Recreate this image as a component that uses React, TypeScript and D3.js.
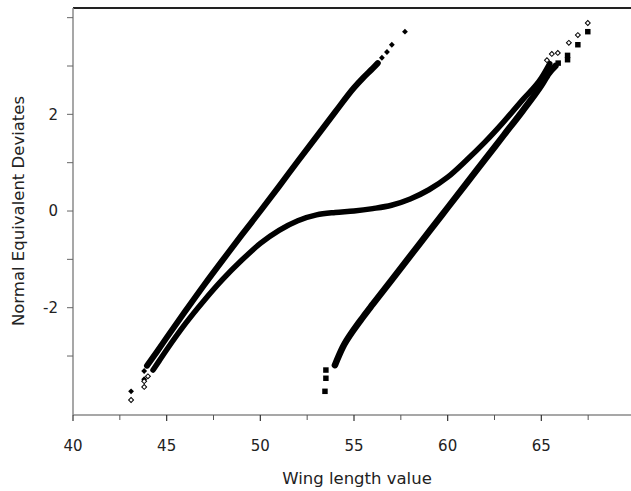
import React from "react";
import * as d3 from "d3";

// ---- data ----
// x: wing length value, z: normal equivalent deviate
const leftDense: [number, number][] = [
  [43.95, -3.2], [44.5, -2.9], [45, -2.62], [46, -2.07], [47, -1.53], [48, -1.01],
  [49, -0.5], [50, 0.0], [51, 0.51], [52, 1.03], [53, 1.54], [54, 2.05],
  [55, 2.55], [55.5, 2.76], [56.0, 2.95], [56.27, 3.06],
];
const leftTail: [number, number][] = [
  [43.1, -3.73], [43.8, -3.48], [43.8, -3.31],
  [56.49, 3.17], [56.76, 3.29], [57.02, 3.44], [57.72, 3.71],
];

const mixDense: [number, number][] = [
  [44.27, -3.29], [44.6, -3.1], [45, -2.87], [46, -2.33], [47, -1.85], [48, -1.41],
  [49, -1.02], [50, -0.67], [51, -0.4], [52, -0.2], [53, -0.08], [54, -0.03],
  [55, 0.0], [56, 0.05], [57, 0.12], [58, 0.25], [59, 0.44], [60, 0.7],
  [61, 1.05], [62, 1.43], [63, 1.85], [64, 2.3], [65, 2.75], [65.45, 3.05],
];
const mixTail: [number, number][] = [
  [43.1, -3.91], [43.8, -3.64], [43.8, -3.52], [44.0, -3.42],
  [65.3, 3.12], [65.56, 3.25], [65.88, 3.27], [66.47, 3.48], [66.95, 3.64], [67.48, 3.89],
];

const rightDense: [number, number][] = [
  [53.98, -3.19], [54.4, -2.82], [55, -2.45], [55.47, -2.2], [56, -1.93], [57, -1.43],
  [58, -0.93], [59, -0.43], [60, 0.07], [61, 0.57], [62, 1.07], [63, 1.57],
  [64, 2.07], [65, 2.6], [65.4, 2.85], [65.75, 3.0],
];
const rightTail: [number, number][] = [
  [53.5, -3.29], [53.5, -3.46], [53.45, -3.73],
  [65.9, 3.06], [66.4, 3.13], [66.4, 3.22], [66.95, 3.44], [67.48, 3.71],
];

const xMajorTicks = [40, 45, 50, 55, 60, 65];
const xMinorTicks = [42.5, 47.5, 52.5, 57.5, 62.5, 67.5];
const yTicks = [-3, -2, -1, 0, 1, 2, 3, 4];
const yLabelTicks = [-2, 0, 2];

const xTitle = "Wing length value";
const yTitle = "Normal Equivalent Deviates";

export default function App() {
  const W = 631;
  const H = 491;
  const x = d3.scaleLinear().domain([40, 70]).range([73, 635]);
  const y = d3.scaleLinear().domain([-4.22, 4.2]).range([415, 8]);
  const line = d3
    .line<[number, number]>()
    .x((d) => x(d[0]))
    .y((d) => y(d[1]))
    .curve(d3.curveMonotoneX);

  const diamond = d3.symbol().type(d3.symbolSquare).size(17)();
  const openDiamond = d3.symbol().type(d3.symbolSquare).size(12)();
  const square = d3.symbol().type(d3.symbolSquare).size(30)();
  const font = "'DejaVu Sans', sans-serif";
  const axisColor = "#8a8a8a";

  return (
    <svg
      width={W}
      height={H}
      style={{ position: "absolute", left: 0, top: 0, background: "#fff" }}
    >
      <rect x={0} y={0} width={W} height={H} fill="#fff" />
      {/* frame */}
      <line x1={73} y1={8} x2={W} y2={8} stroke="#222" strokeWidth={2} />
      <line x1={73} y1={8} x2={73} y2={415} stroke={axisColor} strokeWidth={1.5} />
      <line x1={73} y1={415} x2={W} y2={415} stroke={axisColor} strokeWidth={1.5} />

      {/* x ticks */}
      {xMajorTicks.map((t) => (
        <g key={"xm" + t}>
          <line x1={x(t)} x2={x(t)} y1={415} y2={421} stroke="#333" strokeWidth={1.2} />
          <text
            x={x(t)}
            y={451}
            textAnchor="middle"
            fontFamily={font}
            fontSize={15}
            fill="#222"
          >
            {t}
          </text>
        </g>
      ))}
      {xMinorTicks.map((t) => (
        <line key={"xn" + t} x1={x(t)} x2={x(t)} y1={415} y2={420} stroke="#555" strokeWidth={1} />
      ))}

      {/* y ticks */}
      {yTicks.map((t) => (
        <line key={"yt" + t} x1={67} x2={73} y1={y(t)} y2={y(t)} stroke="#666" strokeWidth={1} />
      ))}
      {yLabelTicks.map((t) => (
        <text
          key={"yl" + t}
          x={58}
          y={y(t)}
          dy="0.35em"
          textAnchor="end"
          fontFamily={font}
          fontSize={15}
          fill="#222"
        >
          {t}
        </text>
      ))}

      {/* titles */}
      <text
        x={357}
        y={484}
        textAnchor="middle"
        fontFamily={font}
        fontSize={16.5}
        fill="#222"
      >
        {xTitle}
      </text>
      <text
        transform={`translate(24, ${y(0)}) rotate(-90)`}
        textAnchor="middle"
        fontFamily={font}
        fontSize={16.5}
        fill="#222"
      >
        {yTitle}
      </text>

      {/* series */}
      <path d={line(leftDense) || ""} fill="none" stroke="#000" strokeWidth={6} strokeLinecap="round" />
      <path d={line(mixDense) || ""} fill="none" stroke="#000" strokeWidth={5.5} strokeLinecap="round" />
      <path d={line(rightDense) || ""} fill="none" stroke="#000" strokeWidth={6.5} strokeLinecap="round" />

      {leftTail.map((d, i) => (
        <path
          key={"lt" + i}
          d={diamond}
          transform={`translate(${x(d[0])},${y(d[1])}) rotate(45)`}
          fill="#000"
        />
      ))}
      {mixTail.map((d, i) => (
        <path
          key={"mt" + i}
          d={openDiamond}
          transform={`translate(${x(d[0])},${y(d[1])}) rotate(45)`}
          fill="#fff"
          stroke="#000"
          strokeWidth={1}
        />
      ))}
      {rightTail.map((d, i) => (
        <path
          key={"rt" + i}
          d={square}
          transform={`translate(${x(d[0])},${y(d[1])})`}
          fill="#000"
        />
      ))}
    </svg>
  );
}
